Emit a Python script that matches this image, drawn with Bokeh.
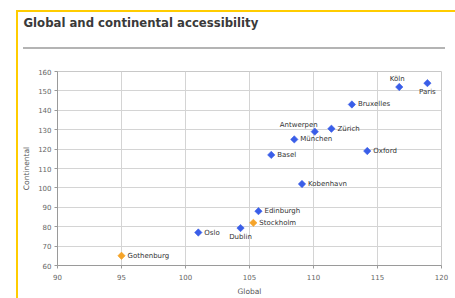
from bokeh.plotting import figure
from bokeh.models import ColumnDataSource, LabelSet, Range1d, Title
from bokeh.core.properties import value
from bokeh.embed import file_html
from bokeh.resources import INLINE

# ---- data ----
cities = ["Köln", "Paris", "Bruxelles", "Antwerpen", "Zürich", "München", "Oxford",
          "Basel", "Kobenhavn", "Edinburgh", "Stockholm", "Dublin", "Oslo", "Gothenburg"]
global_acc = [116.7, 118.9, 113.0, 110.1, 111.4, 108.5, 114.2,
              106.7, 109.1, 105.7, 105.3, 104.3, 101.0, 95.0]
continental_acc = [152.0, 154.0, 143.0, 129.0, 130.5, 125.0, 119.0,
                   117.0, 102.0, 88.0, 82.0, 79.3, 77.0, 65.0]
group = ["other", "other", "other", "other", "other", "other", "other",
         "other", "other", "other", "swe", "other", "other", "swe"]
x_ticks = [90, 95, 100, 105, 110, 115, 120]
y_ticks = [60, 70, 80, 90, 100, 110, 120, 130, 140, 150, 160]
title_text = "Global and continental accessibility"

# label placement (style)
placement = {"Köln": "above", "Paris": "below", "Antwerpen": "aboveleft", "Dublin": "below"}
offsets = {"right": (6, 0, "left"), "above": (-2, 8, "center"), "below": (0, -9, "center"),
           "aboveleft": (3, 7, "right")}
colors = {"other": "#3a5ee8", "swe": "#f5a42a"}

W, H = 455, 298
p = figure(width=W, height=H, output_backend="svg", toolbar_location=None, title=None,
           x_range=Range1d(90, 120), y_range=Range1d(60, 160),
           min_border_left=57, min_border_right=14, min_border_top=71, min_border_bottom=30)
p.background_fill_color = "white"
p.border_fill_color = None
p.outline_line_color = "#c8c8c8"

# page decorations: yellow frame and grey separator painted behind the canvas
p.styles = {
    "background": (
        "linear-gradient(#ffcc00,#ffcc00) 16px 10px / 2px 288px no-repeat, "
        "linear-gradient(#ffcc00,#ffcc00) 16px 10px / 439px 2px no-repeat, "
        "linear-gradient(#b4b4b4,#b4b4b4) 23px 47px / 422px 2px no-repeat, "
        "#ffffff"
    )
}

# spacer (closest to the frame), then the real title above it
p.add_layout(Title(text=" ", text_font_size="1px", standoff=39), "above")
p.add_layout(Title(text=title_text, align="left", offset=-34, standoff=0,
                   text_font="DejaVu Sans", text_font_style="bold",
                   text_font_size="11.7px", text_color="#3a3a3a"), "above")

xo, yo, al = [], [], []
for c in cities:
    o = offsets[placement.get(c, "right")]
    xo.append(o[0]); yo.append(o[1]); al.append(o[2])

src = ColumnDataSource(dict(x=global_acc, y=continental_acc, name=cities,
                            color=[colors[g] for g in group], xo=xo, yo=yo, al=al))
p.scatter("x", "y", source=src, marker="square", angle=0.7854, size=5.2,
          fill_color="color", line_color="color", line_width=0.6)
p.add_layout(LabelSet(x="x", y="y", text="name", source=src, x_offset="xo", y_offset="yo",
                      text_align="al", text_baseline="middle",
                      text_font=value("DejaVu Sans"), text_font_size=value("7px"),
                      text_color=value("#333333")))

for ax in (p.xaxis[0], p.yaxis[0]):
    ax.axis_line_color = "#9a9a9a"
    ax.major_tick_line_color = "#9a9a9a"
    ax.minor_tick_line_color = None
    ax.major_tick_in = 0
    ax.major_tick_out = 3
    ax.major_label_text_font = "DejaVu Sans"
    ax.major_label_text_font_size = "7px"
    ax.major_label_text_color = "#666666"
    ax.axis_label_text_font = "DejaVu Sans"
    ax.axis_label_text_font_size = "7.5px"
    ax.axis_label_text_font_style = "normal"
    ax.axis_label_text_color = "#555555"

p.xaxis.ticker = x_ticks
p.yaxis.ticker = y_ticks
p.xaxis.axis_label = "Global"
p.yaxis.axis_label = "Continental"
p.xaxis.major_label_standoff = 5
p.yaxis.major_label_standoff = 3
p.xaxis.axis_label_standoff = 4
p.yaxis.axis_label_standoff = 4

p.xgrid.ticker = x_ticks
p.ygrid.ticker = y_ticks
p.grid.grid_line_color = "#d4d4d4"

open("out.html", "w").write(file_html(p, INLINE))
